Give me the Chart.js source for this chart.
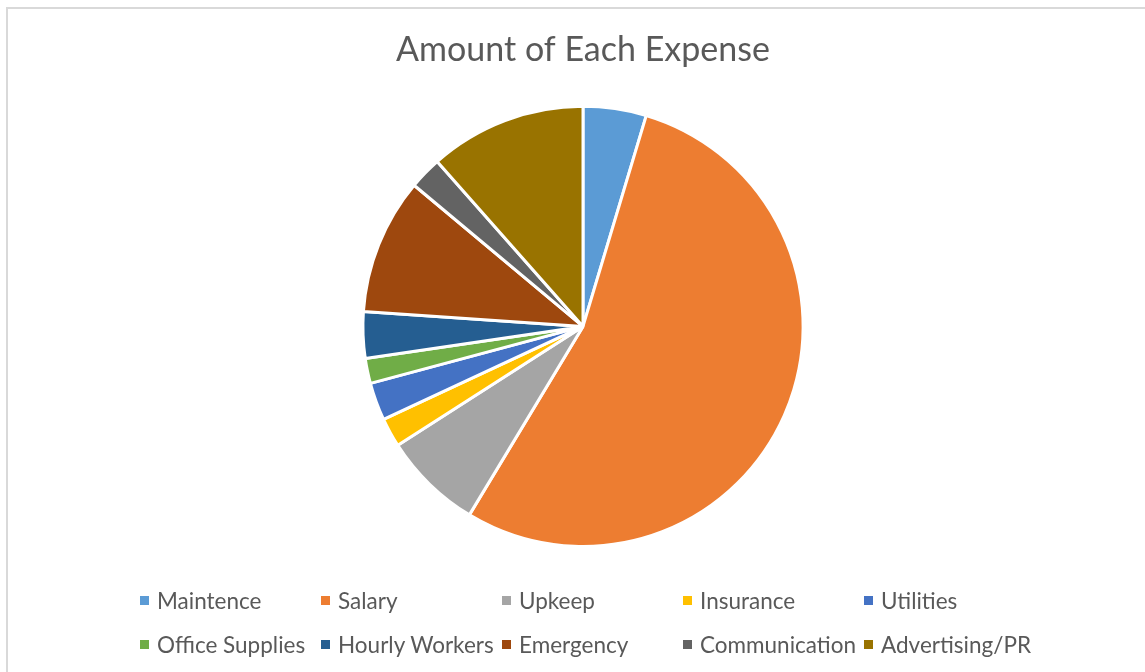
<!DOCTYPE html>
<html>
<head>
<meta charset="utf-8">
<script src="https://cdn.jsdelivr.net/npm/chart.js@4.4.1/dist/chart.umd.min.js"></script>
<style>
  html, body { margin: 0; padding: 0; background: #fff; }
  #wrap { position: relative; width: 1145px; height: 672px; overflow: hidden; }
  #frame { position: absolute; left: 6px; top: 7px; width: 1150px; height: 680px; border: 2px solid #d9d9d9; box-sizing: border-box; }
  #chart-box { position: absolute; left: 0; top: 0; width: 1145px; height: 672px; }
  #legend { position: absolute; left: 140px; top: 585px; display: grid; grid-template-columns: repeat(5, 181px); row-gap: 14px;
            font-family: Lato, "Liberation Sans", sans-serif; font-size: 22.5px; color: #595959; }
  #legend div { display: flex; align-items: center; height: 30px; white-space: nowrap; }
  #legend span.box { width: 9px; height: 9px; margin-right: 8px; display: inline-block; }
</style>
</head>
<body>
<div id="wrap">
  <div id="frame"></div>
  <div id="chart-box"><canvas id="pie"></canvas></div>
  <div id="legend"></div>
</div>
<script>
// expense categories and their share
const categories = ["Maintence", "Salary", "Upkeep", "Insurance", "Utilities",
  "Office Supplies", "Hourly Workers", "Emergency", "Communication", "Advertising/PR"];
const amounts = [4.64, 54.0, 7.28, 2.14, 2.78, 1.83, 3.42, 10.0, 2.39, 11.53];
const colors = ["#5B9BD5", "#ED7D31", "#A5A5A5", "#FFC000", "#4472C4",
  "#70AD47", "#255E91", "#9E480E", "#636363", "#997300"];

// html legend laid out in columns like the original
const htmlLegend = {
  id: "htmlLegend",
  afterUpdate(chart) {
    const box = document.getElementById("legend");
    box.innerHTML = "";
    chart.data.labels.forEach((label, i) => {
      const item = document.createElement("div");
      const sw = document.createElement("span");
      sw.className = "box";
      sw.style.background = chart.data.datasets[0].backgroundColor[i];
      item.appendChild(sw);
      item.appendChild(document.createTextNode(label));
      box.appendChild(item);
    });
  }
};

const ctx = document.getElementById("pie").getContext("2d");
const chart = new Chart(ctx, {
  type: "pie",
  data: {
    labels: categories,
    datasets: [{
      data: amounts,
      backgroundColor: colors,
      borderColor: "#ffffff",
      borderWidth: 3
    }]
  },
  options: {
    responsive: true,
    maintainAspectRatio: false,
    animation: false,
    events: [],
    layout: { padding: { left: 21, right: 0, top: 0, bottom: 124 } },
    plugins: {
      legend: { display: false },
      tooltip: { enabled: false },
      title: {
        display: true,
        text: "Amount of Each Expense",
        color: "#595959",
        font: { family: "Lato, 'Liberation Sans', sans-serif", size: 34, weight: "normal" },
        padding: { top: 30, bottom: 34 }
      }
    }
  },
  plugins: [htmlLegend]
});
</script>
</body>
</html>
